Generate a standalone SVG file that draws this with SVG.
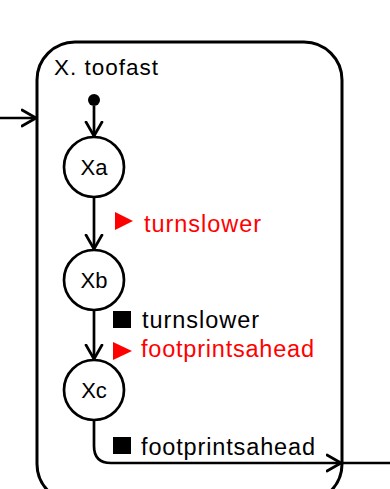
<svg xmlns="http://www.w3.org/2000/svg" width="390" height="489" viewBox="0 0 390 489">
<defs>
<style>
text{font-family:"Liberation Sans",Arial,sans-serif}
.red{fill:#ff0000}
.blk{fill:#000}
.st{fill:#fff;stroke:#000;stroke-width:2.7}
.edge{fill:none;stroke:#000;stroke-width:2.7}
.nm{font-size:22px;text-anchor:middle;fill:#000}
</style>
<marker id="arr" viewBox="0 0 16 20" refX="15" refY="10" markerWidth="16" markerHeight="20" markerUnits="userSpaceOnUse" orient="auto">
<path d="M1,2 L15,10 L1,18" fill="none" stroke="#000" stroke-width="2.7" stroke-linecap="round" stroke-linejoin="round"/>
</marker>
</defs>
<rect width="390" height="489" fill="#fff"/>
<g id="X">
<rect x="37" y="42" width="305" height="460" rx="38" ry="38" fill="none" stroke="#000" stroke-width="3"/>
<text x="54" y="75" font-size="22.5" textLength="104" lengthAdjust="spacing" fill="#000">X. toofast</text>
</g>
<g id="init"><circle cx="94" cy="100" r="6" fill="#000"/></g>
<g id="Xa"><circle class="st" cx="94" cy="167" r="30"/><text class="nm" x="94" y="175">Xa</text></g>
<g id="Xb"><circle class="st" cx="94" cy="280" r="30"/><text class="nm" x="94" y="288">Xb</text></g>
<g id="Xc"><circle class="st" cx="94" cy="390" r="30"/><text class="nm" x="94" y="398">Xc</text></g>
<g id="connectors">
<line class="edge" x1="0" y1="118" x2="36" y2="118" marker-end="url(#arr)"/>
<line class="edge" x1="94" y1="106" x2="94" y2="136" marker-end="url(#arr)"/>
<line class="edge" x1="94" y1="197" x2="94" y2="249" marker-end="url(#arr)"/>
<line class="edge" x1="94" y1="310" x2="94" y2="359" marker-end="url(#arr)"/>
<path class="edge" d="M94,420 V446 Q94,463 111,463 H341" marker-end="url(#arr)"/>
<line class="edge" x1="341" y1="463" x2="390" y2="463"/>
</g>
<g id="labels">
<path class="red" d="M115,212 L133,221 L115,230 Z"/>
<text class="red" x="144" y="232" font-size="23.5" textLength="117" lengthAdjust="spacing">turnslower</text>
<rect class="blk" x="113" y="311" width="18" height="17"/>
<text class="blk" x="142" y="328" font-size="23.5" textLength="117" lengthAdjust="spacing">turnslower</text>
<path class="red" d="M113,342 L132,351 L113,360 Z"/>
<text class="red" x="141" y="357" font-size="23.5" textLength="173" lengthAdjust="spacing">footprintsahead</text>
<rect class="blk" x="113" y="437" width="18" height="17"/>
<text class="blk" x="141" y="455" font-size="23.5" textLength="174" lengthAdjust="spacing">footprintsahead</text>
</g>
</svg>
